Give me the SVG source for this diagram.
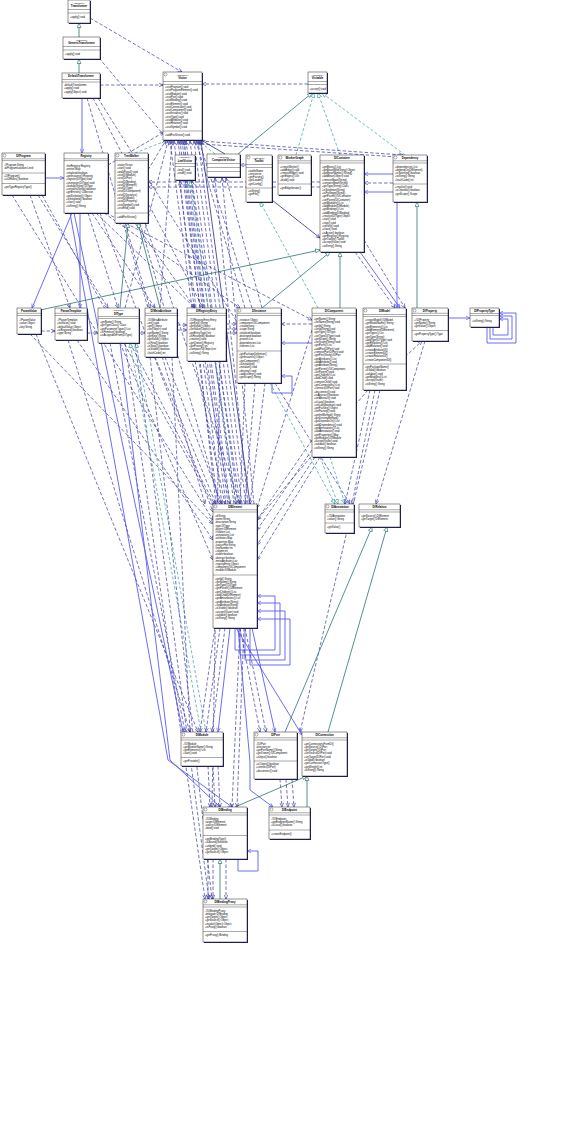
<svg xmlns="http://www.w3.org/2000/svg" width="570" height="1129" viewBox="0 0 570 1129">
<style>
.bx{fill:#fff;stroke:#2a2a2a;stroke-width:.5}
.sh{fill:#1c1c5c}
.sp{stroke:#2a2a2a;stroke-width:.4;fill:none}
.ic{fill:#fff;stroke:#333;stroke-width:.4}
.tt{font-family:"Liberation Sans",Arial,sans-serif;font-size:2.8px;font-weight:bold;text-anchor:middle;fill:#000}
.st{font-family:"Liberation Sans",Arial,sans-serif;font-size:2.5px;text-anchor:middle;fill:#000}
.m{font-family:"Liberation Sans",Arial,sans-serif;font-size:2.6px;fill:#000}
.d{fill:none;stroke:#3838a8;stroke-width:.7;stroke-dasharray:3.5 2;marker-end:url(#ad)}
.s{fill:none;stroke:#5b5bf5;stroke-width:.9;marker-end:url(#as)}
.n{fill:none;stroke:#2a2a8c;stroke-width:.8;marker-end:url(#an)}
.t{fill:none;stroke:#3a9d9d;stroke-width:.7;stroke-dasharray:3 2;marker-end:url(#at)}
.g{fill:none;stroke:#2e7272;stroke-width:.8;marker-end:url(#ag)}
</style>
<defs>
<marker id="ad" viewBox="0 0 10 10" refX="10" refY="5" markerWidth="4.5" markerHeight="4.5" markerUnits="userSpaceOnUse" orient="auto"><path d="M1,1L10,5L1,9" fill="none" stroke="#3838a8" stroke-width="1.4"/></marker>
<marker id="as" viewBox="0 0 10 10" refX="10" refY="5" markerWidth="4.5" markerHeight="4.5" markerUnits="userSpaceOnUse" orient="auto"><path d="M1,1L10,5L1,9" fill="none" stroke="#5b5bf5" stroke-width="1.4"/></marker>
<marker id="an" viewBox="0 0 10 10" refX="10" refY="5" markerWidth="4.5" markerHeight="4.5" markerUnits="userSpaceOnUse" orient="auto"><path d="M1,1L10,5L1,9" fill="none" stroke="#2a2a8c" stroke-width="1.4"/></marker>
<marker id="at" viewBox="0 0 10 10" refX="10" refY="5" markerWidth="5" markerHeight="5" markerUnits="userSpaceOnUse" orient="auto"><path d="M1,1L10,5L1,9Z" fill="#fff" stroke="#3a9d9d" stroke-width="1.3"/></marker>
<marker id="ag" viewBox="0 0 10 10" refX="10" refY="5" markerWidth="5" markerHeight="5" markerUnits="userSpaceOnUse" orient="auto"><path d="M1,1L10,5L1,9Z" fill="#fff" stroke="#2e7272" stroke-width="1.3"/></marker>
</defs>
<rect width="570" height="1129" fill="#fff"/>
<g id="connectors">
<path class="g" d="M79,37V23"/>
<path class="g" d="M79,73V59"/>
<path class="d" d="M90,18L182,72"/>
<path class="d" d="M100,85H163"/>
<path class="d" d="M308,84H202"/>
<path class="d" d="M99,58L168,140"/>
<path class="s" d="M82,98V153"/>
<path class="g" d="M238,154L312,93"/>
<path class="t" d="M296,155L314,93"/>
<path class="t" d="M340,155L318,93"/>
<path class="t" d="M405,155L322,93"/>
<path class="d" d="M200,141L403,155"/>
<path class="d" d="M201,144L398,157"/>
<path class="d" d="M320,182H148"/>
<path class="d" d="M320,187H148"/>
<path class="s" d="M393,174H364"/>
<path class="d" d="M393,183H364"/>
<path class="s" d="M393,192H364"/>
<path class="d" d="M246,165H240"/>
<path class="t" d="M135,153L168,140"/>
<path class="t" d="M185,155V140"/>
<path class="t" d="M215,154L198,140"/>
<path class="n" d="M225,154L201,140"/>
<path class="d" d="M108,165L164,132"/>
<path class="s" d="M45,178H64"/>
<path class="d" d="M87,98L205,504"/>
<path class="d" d="M93,98L203,308"/>
<path class="d" d="M98,98L350,504"/>
<path class="d" d="M218,504L170,141"/>
<path class="d" d="M222,504L174,141"/>
<path class="d" d="M226,504L178,141"/>
<path class="d" d="M230,504L182,141"/>
<path class="d" d="M234,504L186,141"/>
<path class="d" d="M238,504L190,141"/>
<path class="d" d="M242,504L194,141"/>
<path class="d" d="M246,504L198,141"/>
<path class="n" d="M250,504L201,141"/>
<path class="d" d="M200,308L180,141"/>
<path class="d" d="M205,308L184,141"/>
<path class="d" d="M160,308L172,141"/>
<path class="d" d="M245,308L196,141"/>
<path class="d" d="M252,308L199,141"/>
<path class="d" d="M125,308L168,141"/>
<path class="d" d="M216,504L180,181"/>
<path class="d" d="M228,504L186,181"/>
<path class="d" d="M240,504L192,181"/>
<path class="t" d="M236,504L190,181"/>
<path class="d" d="M248,504L215,178"/>
<path class="d" d="M254,504L222,178"/>
<path class="d" d="M262,308L226,178"/>
<path class="s" d="M72,213L32,308"/>
<path class="s" d="M80,213V308"/>
<path class="d" d="M88,213L118,308"/>
<path class="d" d="M92,213L155,308"/>
<path class="d" d="M96,213L195,308"/>
<path class="d" d="M100,213L213,512"/>
<path class="d" d="M104,213L240,308"/>
<path class="d" d="M106,213L312,320"/>
<path class="s" d="M74,213L183,732"/>
<path class="s" d="M70,213L168,760L232,807"/>
<path class="d" d="M125,223L150,308"/>
<path class="d" d="M135,223L195,308"/>
<path class="d" d="M140,223L220,504"/>
<path class="d" d="M145,223L240,504"/>
<path class="g" d="M120,308L128,223"/>
<path class="g" d="M160,308L138,223"/>
<path class="d" d="M148,170L166,140"/>
<path class="d" d="M12,195L213,520"/>
<path class="d" d="M30,195L70,308"/>
<path class="d" d="M38,195L108,308"/>
<path class="d" d="M42,195L214,506"/>
<path class="d" d="M41,331H55"/>
<path class="d" d="M30,334L213,524"/>
<path class="d" d="M36,334L198,732"/>
<path class="g" d="M40,310L320,250"/>
<path class="d" d="M87,333H98"/>
<path class="d" d="M68,340L190,732"/>
<path class="d" d="M77,340L213,540"/>
<path class="d" d="M139,333H145"/>
<path class="d" d="M110,343L185,732"/>
<path class="d" d="M120,343L213,560"/>
<path class="d" d="M130,343L215,505"/>
<path class="t" d="M201,732L130,343"/>
<path class="t" d="M206,732L136,343"/>
<path class="d" d="M125,343L205,899"/>
<path class="d" d="M135,343L209,899"/>
<path class="s" d="M120,343L170,760L220,807"/>
<path class="d" d="M177,325H187"/>
<path class="d" d="M177,330H187"/>
<path class="d" d="M155,357L216,504"/>
<path class="d" d="M165,357L222,504"/>
<path class="d" d="M172,357L190,732"/>
<path class="d" d="M150,357L212,899"/>
<path class="d" d="M226,324H237"/>
<path class="d" d="M226,329H237"/>
<path class="d" d="M226,333H237"/>
<path class="d" d="M195,361L225,504"/>
<path class="d" d="M205,361L230,504"/>
<path class="d" d="M215,361L236,504"/>
<path class="d" d="M220,361L212,807"/>
<path class="s" d="M312,343H281"/>
<path class="s" d="M272,383V393H292V376H281"/>
<path class="d" d="M312,324H281"/>
<path class="d" d="M245,383L240,504"/>
<path class="d" d="M255,383L245,504"/>
<path class="d" d="M265,383L250,504"/>
<path class="t" d="M270,383L335,504"/>
<path class="g" d="M262,308L330,252"/>
<path class="g" d="M340,308V252"/>
<path class="t" d="M320,457L338,504"/>
<path class="t" d="M330,457L345,504"/>
<path class="d" d="M312,440L257,520"/>
<path class="d" d="M312,450L257,530"/>
<path class="d" d="M315,457L257,545"/>
<path class="d" d="M320,457L257,560"/>
<path class="d" d="M312,330L257,508"/>
<path class="t" d="M318,308L260,202"/>
<path class="n" d="M272,200L320,238"/>
<path class="s" d="M397,202V308"/>
<path class="d" d="M405,357L422,341"/>
<path class="d" d="M370,390L345,504"/>
<path class="d" d="M375,390L352,504"/>
<path class="d" d="M368,390L257,520"/>
<path class="d" d="M355,252L395,308"/>
<path class="s" d="M360,252L400,308"/>
<path class="d" d="M364,240L405,308"/>
<path class="d" d="M380,390L300,732"/>
<path class="s" d="M448,318H470"/>
<path class="g" d="M417,308V202"/>
<path class="d" d="M425,341L376,504"/>
<path class="s" d="M487,327V343H516V313H499"/>
<path class="s" d="M490,327V339H512V316H499"/>
<path class="s" d="M493,327V335H508V319H499"/>
<path class="s" d="M235,628V650H275V596H257"/>
<path class="s" d="M240,628V655H280V603H257"/>
<path class="s" d="M245,628V660H285V611H257"/>
<path class="s" d="M250,628V665H290V619H257"/>
<path class="d" d="M215,628L200,732"/>
<path class="d" d="M220,628L206,732"/>
<path class="d" d="M225,628L212,732"/>
<path class="s" d="M230,628L218,732"/>
<path class="d" d="M240,628L260,732"/>
<path class="d" d="M245,628L266,732"/>
<path class="s" d="M252,628L275,732"/>
<path class="d" d="M240,628L232,807"/>
<path class="d" d="M244,628L237,807"/>
<path class="s" d="M238,628L250,762L250,790L273,807"/>
<path class="s" d="M236,628L302,735"/>
<path class="d" d="M208,766L210,807"/>
<path class="d" d="M213,766L215,807"/>
<path class="d" d="M218,766L220,807"/>
<path class="d" d="M208,859V899"/>
<path class="d" d="M213,859V899"/>
<path class="d" d="M226,859V899"/>
<path class="g" d="M220,899V859"/>
<path class="s" d="M238,859V871H258V851H247"/>
<path class="d" d="M280,779L282,807"/>
<path class="d" d="M286,779L288,807"/>
<path class="d" d="M292,779L294,807"/>
<path class="g" d="M235,807L307,776"/>
<path class="g" d="M307,807V776"/>
<path class="g" d="M285,732L372,527"/>
<path class="g" d="M328,732L387,527"/>
</g>
<g id="transformer"><rect class="sh" x="69" y="1" width="22" height="23"/><rect class="bx" x="68" y="0" width="22" height="23"/><path class="sp" d="M68,9.5h22M68,13h22"/><text class="st" x="79" y="3.6">«interface»</text><text class="tt" x="79" y="7">Transformer</text><text class="m" x="70" y="18">+apply():void</text></g>
<g id="generic-transformer"><rect class="sh" x="64" y="38" width="37" height="22"/><rect class="bx" x="63" y="37" width="37" height="22"/><path class="sp" d="M63,46.5h37M63,50h37"/><text class="st" x="81.5" y="40.5">«interface»</text><text class="tt" x="81.5" y="44">GenericTransformer</text><text class="m" x="65" y="55">+apply():void</text></g>
<g id="default-transformer"><rect class="sh" x="63" y="74" width="38" height="25"/><rect class="bx" x="62" y="73" width="38" height="25"/><path class="sp" d="M62,79.5h38M62,82h38"/><text class="tt" x="81" y="77.3">DefaultTransformer</text><text class="m" x="64" y="86"><tspan x="64" dy="0">-defaultTransformer</tspan><tspan x="64" dy="3.3">+apply():void</tspan><tspan x="64" dy="3.3">+apply(Object):void</tspan></text></g>
<g id="visitor"><rect class="sh" x="164" y="73" width="39" height="68"/><rect class="bx" x="163" y="72" width="39" height="68"/><circle class="ic" cx="165.5" cy="74.5" r="1.5"/><path class="sp" d="M163,81.5h39M163,84.5h39M163,131h39"/><text class="st" x="182.5" y="75.6">«interface»</text><text class="tt" x="182.5" y="79">Visitor</text><text class="m" x="165" y="88"><tspan x="165" dy="0">+visitProgram():void</tspan><tspan x="165" dy="3.3">+visitProgramElement():void</tspan><tspan x="165" dy="3.3">+visitModule():void</tspan><tspan x="165" dy="3.3">+visitPort():void</tspan><tspan x="165" dy="3.3">+visitBinding():void</tspan><tspan x="165" dy="3.3">+visitElement():void</tspan><tspan x="165" dy="3.3">+visitConnection():void</tspan><tspan x="165" dy="3.3">+visitComponent():void</tspan><tspan x="165" dy="3.3">+visitInstance():void</tspan><tspan x="165" dy="3.3">+visitType():void</tspan><tspan x="165" dy="3.3">+visitAttribute():void</tspan><tspan x="165" dy="3.3">+visitRelation():void</tspan><tspan x="165" dy="3.3">+visitSymbol():void</tspan></text><text class="m" x="165" y="136">+addPortVisitor():void</text></g>
<g id="visitable"><rect class="sh" x="309" y="73" width="19" height="21"/><rect class="bx" x="308" y="72" width="19" height="21"/><path class="sp" d="M308,81.5h19M308,84.5h19"/><text class="st" x="317.5" y="75.6">«interface»</text><text class="tt" x="317.5" y="79">Visitable</text><text class="m" x="309.5" y="89.5">+accept():void</text></g>
<g id="di-program"><rect class="sh" x="3" y="154" width="43" height="42"/><rect class="bx" x="2" y="153" width="43" height="42"/><circle class="ic" cx="4.5" cy="155.5" r="1.5"/><path class="sp" d="M2,158.8h43M2,160.6h43M2,173h43M2,183.5h43"/><text class="tt" x="23.5" y="157.3">DIProgram</text><text class="m" x="4" y="166"><tspan x="4" dy="0">-#Program:String</tspan><tspan x="4" dy="3.3">-diProgramIsolation:Level</tspan></text><text class="m" x="4" y="177"><tspan x="4" dy="0">+DIProgram()</tspan><tspan x="4" dy="3.3">+isDIRules():boolean</tspan></text><text class="m" x="4" y="188">+getTypeRegistryType()</text></g>
<g id="registry"><rect class="sh" x="65" y="154" width="44" height="60"/><rect class="bx" x="64" y="153" width="44" height="60"/><path class="sp" d="M64,158.8h44M64,160.6h44"/><text class="tt" x="86" y="157.3">Registry</text><text class="m" x="66" y="167"><tspan x="66" dy="0">-theRegistry:Registry</tspan><tspan x="66" dy="3.3">-entries:Map</tspan><tspan x="66" dy="3.3">-initialized:boolean</tspan><tspan x="66" dy="3.3">+getInstance():Registry</tspan><tspan x="66" dy="3.3">+register(DIType):void</tspan><tspan x="66" dy="3.3">+unregister(DIType):void</tspan><tspan x="66" dy="3.3">+lookup(String):DIType</tspan><tspan x="66" dy="3.3">+contains(String):boolean</tspan><tspan x="66" dy="3.3">+getEntries():Collection</tspan><tspan x="66" dy="3.3">+getDefinition():Object</tspan><tspan x="66" dy="3.3">+isInitialized():boolean</tspan><tspan x="66" dy="3.3">+clear():void</tspan><tspan x="66" dy="3.3">+toString():String</tspan></text></g>
<g id="tree-walker"><rect class="sh" x="116" y="154" width="33" height="70"/><rect class="bx" x="115" y="153" width="33" height="70"/><circle class="ic" cx="117.5" cy="155.5" r="1.5"/><path class="sp" d="M115,158.8h33M115,160.6h33M115,213h33"/><text class="tt" x="131.5" y="157.3">TreeWalker</text><text class="m" x="117" y="166"><tspan x="117" dy="0">-visitor:Visitor</tspan><tspan x="117" dy="3.3">+start():void</tspan><tspan x="117" dy="3.3">+walkPortal():void</tspan><tspan x="117" dy="3.3">+visit(DIModule)</tspan><tspan x="117" dy="3.3">+visit(DIPort)</tspan><tspan x="117" dy="3.3">+visit(DIBinding)</tspan><tspan x="117" dy="3.3">+visit(DIElement)</tspan><tspan x="117" dy="3.3">+visit(DIType)</tspan><tspan x="117" dy="3.3">+visit(DIComponent)</tspan><tspan x="117" dy="3.3">+visit(DIInstance)</tspan><tspan x="117" dy="3.3">+visit(DIModel)</tspan><tspan x="117" dy="3.3">+visit(DIProperty)</tspan><tspan x="117" dy="3.3">+visitSymbol():void</tspan><tspan x="117" dy="3.3">+visitEnd():void</tspan></text><text class="m" x="117" y="218">+addPortVisitor()</text></g>
<g id="leaf-visitor"><rect class="sh" x="176" y="156" width="20" height="25"/><rect class="bx" x="175" y="155" width="20" height="25"/><path class="sp" d="M175,163.5h20M175,166.5h20"/><text class="st" x="185" y="158.3">«interface»</text><text class="tt" x="185" y="161.6">LeafVisitor</text><text class="m" x="177" y="170.5"><tspan x="177" dy="0">+leaf():void</tspan><tspan x="177" dy="3.3">+node():void</tspan></text></g>
<g id="composite-visitor"><rect class="sh" x="208" y="155" width="33" height="23"/><rect class="bx" x="207" y="154" width="33" height="23"/><path class="sp" d="M207,163.5h33M207,167.5h33M207,171.5h33"/><text class="st" x="223.5" y="157.5">«interface»</text><text class="tt" x="223.5" y="161">CompositeVisitor</text></g>
<g id="toolkit"><rect class="sh" x="247" y="156" width="26" height="47"/><rect class="bx" x="246" y="155" width="26" height="47"/><circle class="ic" cx="248.5" cy="157.5" r="1.5"/><path class="sp" d="M246,164.5h26M246,167.5h26M246,188h26"/><text class="st" x="259" y="158.5">«interface»</text><text class="tt" x="259" y="162">Toolkit</text><text class="m" x="248" y="171.5"><tspan x="248" dy="0">+toolkitName</tspan><tspan x="248" dy="3.3">+version:int</tspan><tspan x="248" dy="3.3">+getFactory()</tspan><tspan x="248" dy="3.3">+getLoader()</tspan><tspan x="248" dy="3.3">+getConfig()</tspan></text><text class="m" x="248" y="192"><tspan x="248" dy="0">+toString()</tspan><tspan x="248" dy="3.3">+getFile()</tspan></text></g>
<g id="worker-graph"><rect class="sh" x="279" y="156" width="33" height="40"/><rect class="bx" x="278" y="155" width="33" height="40"/><circle class="ic" cx="280.5" cy="157.5" r="1.5"/><path class="sp" d="M278,160.8h33M278,163h33M278,184h33"/><text class="tt" x="294.5" y="159">WorkerGraph</text><text class="m" x="280" y="167.5"><tspan x="280" dy="0">+createWorker()</tspan><tspan x="280" dy="3.3">+addEdge():void</tspan><tspan x="280" dy="3.3">+removeEdge():void</tspan><tspan x="280" dy="3.3">+getEdges():List</tspan><tspan x="280" dy="3.3">+build():void</tspan></text><text class="m" x="280" y="189">+getEdgeIterator()</text></g>
<g id="di-container"><rect class="sh" x="321" y="156" width="44" height="97"/><rect class="bx" x="320" y="155" width="44" height="97"/><path class="sp" d="M320,160.8h44M320,163h44"/><text class="tt" x="342" y="159">DIContainer</text><text class="m" x="322" y="167.5"><tspan x="322" dy="0">+getBeans():List</tspan><tspan x="322" dy="3.3">+getBeanById(String):Object</tspan><tspan x="322" dy="3.3">+getBeanNames():String[]</tspan><tspan x="322" dy="3.3">+addBean(Object):void</tspan><tspan x="322" dy="3.3">+removeBean(String)</tspan><tspan x="322" dy="3.3">+containsBean(String)</tspan><tspan x="322" dy="3.3">+getType(String):Class</tspan><tspan x="322" dy="3.3">+isSingleton(String)</tspan><tspan x="322" dy="3.3">+isPrototype(String)</tspan><tspan x="322" dy="3.3">+getParent():DIContainer</tspan><tspan x="322" dy="3.3">+setParent(DIContainer)</tspan><tspan x="322" dy="3.3">+getModules():List</tspan><tspan x="322" dy="3.3">+addModule(DIModule)</tspan><tspan x="322" dy="3.3">+getBindings():List</tspan><tspan x="322" dy="3.3">+addBinding(DIBinding)</tspan><tspan x="322" dy="3.3">+resolve(DIType):Object</tspan><tspan x="322" dy="3.3">+start():void</tspan><tspan x="322" dy="3.3">+stop():void</tspan><tspan x="322" dy="3.3">+refresh():void</tspan><tspan x="322" dy="3.3">+close():void</tspan><tspan x="322" dy="3.3">+isActive():boolean</tspan><tspan x="322" dy="3.3">+getRegistry():Registry</tspan><tspan x="322" dy="3.3">+getToolkit():Toolkit</tspan><tspan x="322" dy="3.3">+accept(Visitor):void</tspan><tspan x="322" dy="3.3">+toString():String</tspan></text></g>
<g id="dependency"><rect class="sh" x="394" y="156" width="34" height="47"/><rect class="bx" x="393" y="155" width="34" height="47"/><circle class="ic" cx="395.5" cy="157.5" r="1.5"/><path class="sp" d="M393,160.8h34M393,163h34M393,184h34"/><text class="tt" x="410" y="159">Dependency</text><text class="m" x="395" y="167.5"><tspan x="395" dy="0">+dependencies:List</tspan><tspan x="395" dy="3.3">+dependOn(DIElement)</tspan><tspan x="395" dy="3.3">+isSatisfied():boolean</tspan><tspan x="395" dy="3.3">+toString():String</tspan><tspan x="395" dy="3.3">+hashCode():int</tspan></text><text class="m" x="395" y="188"><tspan x="395" dy="0">+resolve():void</tspan><tspan x="395" dy="3.3">+isOptional():boolean</tspan><tspan x="395" dy="3.3">+getScope():Scope</tspan></text></g>
<g id="param-value"><rect class="sh" x="18" y="309" width="24" height="26"/><rect class="bx" x="17" y="308" width="24" height="26"/><path class="sp" d="M17,313.3h24M17,315.5h24"/><text class="tt" x="29" y="311.8">ParamValue</text><text class="m" x="19" y="321"><tspan x="19" dy="0">-#ParamValue</tspan><tspan x="19" dy="3.3">+value:Object</tspan><tspan x="19" dy="3.3">+key:String</tspan></text></g>
<g id="param-template"><rect class="sh" x="56" y="309" width="32" height="32"/><rect class="bx" x="55" y="308" width="32" height="32"/><path class="sp" d="M55,313.3h32M55,315.5h32"/><text class="tt" x="71" y="311.8">ParamTemplate</text><text class="m" x="57" y="321"><tspan x="57" dy="0">-#ParamTemplate</tspan><tspan x="57" dy="3.3">+initValue():void</tspan><tspan x="57" dy="3.3">+defaultValue:Object</tspan><tspan x="57" dy="3.3">+isRequired():boolean</tspan><tspan x="57" dy="3.3">+type:String</tspan></text></g>
<g id="di-type"><rect class="sh" x="99" y="309" width="41" height="35"/><rect class="bx" x="98" y="308" width="41" height="35"/><path class="sp" d="M98,316.5h41M98,318.5h41"/><text class="st" x="118.5" y="311">«interface»</text><text class="tt" x="118.5" y="314.5">DIType</text><text class="m" x="100" y="323"><tspan x="100" dy="0">+getName():String</tspan><tspan x="100" dy="3.3">+getTypeClass():Class</tspan><tspan x="100" dy="3.3">+getParameterTypes():List</tspan><tspan x="100" dy="3.3">+isPrimitive():boolean</tspan><tspan x="100" dy="3.3">+isAssignableFrom(DIType)</tspan></text></g>
<g id="di-meta-attribute"><rect class="sh" x="146" y="309" width="32" height="49"/><rect class="bx" x="145" y="308" width="32" height="49"/><path class="sp" d="M145,313.3h32M145,315.5h32"/><text class="tt" x="161" y="311.8">DIMetaAttribute</text><text class="m" x="147" y="320.5"><tspan x="147" dy="0">-#DIMetaAttribute</tspan><tspan x="147" dy="3.3">+init():void</tspan><tspan x="147" dy="3.3">+get():Object</tspan><tspan x="147" dy="3.3">+set(Object):void</tspan><tspan x="147" dy="3.3">+getName():String</tspan><tspan x="147" dy="3.3">+getKey():String</tspan><tspan x="147" dy="3.3">+getValue():Object</tspan><tspan x="147" dy="3.3">+isFinal():boolean</tspan><tspan x="147" dy="3.3">+isStatic():boolean</tspan><tspan x="147" dy="3.3">+isVisible():boolean</tspan><tspan x="147" dy="3.3">+hashCode():int</tspan></text></g>
<g id="di-registry-entry"><rect class="sh" x="188" y="309" width="39" height="53"/><rect class="bx" x="187" y="308" width="39" height="53"/><path class="sp" d="M187,313.3h39M187,315.5h39"/><text class="tt" x="206.5" y="311.8">DIRegistryEntry</text><text class="m" x="189" y="320.5"><tspan x="189" dy="0">-#DIRegistryEntry:Entry</tspan><tspan x="189" dy="3.3">+getKey():String</tspan><tspan x="189" dy="3.3">+getValue():Object</tspan><tspan x="189" dy="3.3">+setValue(Object):void</tspan><tspan x="189" dy="3.3">+getEntryType():int</tspan><tspan x="189" dy="3.3">+isResolved():boolean</tspan><tspan x="189" dy="3.3">+resolve():void</tspan><tspan x="189" dy="3.3">+getOwner():Registry</tspan><tspan x="189" dy="3.3">+getPriority():int</tspan><tspan x="189" dy="3.3">+compareTo(Object):int</tspan><tspan x="189" dy="3.3">+toString():String</tspan></text></g>
<g id="di-instance"><rect class="sh" x="238" y="309" width="44" height="75"/><rect class="bx" x="237" y="308" width="44" height="75"/><circle class="ic" cx="239.5" cy="310.5" r="1.5"/><path class="sp" d="M237,313.3h44M237,315.5h44M237,351h44"/><text class="tt" x="259" y="311.8">DIInstance</text><text class="m" x="239" y="320.5"><tspan x="239" dy="0">-instance:Object</tspan><tspan x="239" dy="3.3">-component:DIComponent</tspan><tspan x="239" dy="3.3">-created:long</tspan><tspan x="239" dy="3.3">-scope:String</tspan><tspan x="239" dy="3.3">-initialized:boolean</tspan><tspan x="239" dy="3.3">-destroyed:boolean</tspan><tspan x="239" dy="3.3">-proxies:List</tspan><tspan x="239" dy="3.3">-dependencies:List</tspan><tspan x="239" dy="3.3">-listeners:List</tspan></text><text class="m" x="239" y="355"><tspan x="239" dy="0">+getPackageDefinition()</tspan><tspan x="239" dy="3.3">+getInstance():Object</tspan><tspan x="239" dy="3.3">+getComponent()</tspan><tspan x="239" dy="3.3">+isInitialized()</tspan><tspan x="239" dy="3.3">+initialize():void</tspan><tspan x="239" dy="3.3">+destroy():void</tspan><tspan x="239" dy="3.3">+addListener():void</tspan><tspan x="239" dy="3.3">+getScope():String</tspan></text></g>
<g id="di-component"><rect class="sh" x="313" y="309" width="44" height="149"/><rect class="bx" x="312" y="308" width="44" height="149"/><path class="sp" d="M312,313.3h44M312,315.5h44"/><text class="tt" x="334" y="311.8">DIComponent</text><text class="m" x="314" y="320"><tspan x="314" dy="0">+getName():String</tspan><tspan x="314" dy="3.3">+setName(String):void</tspan><tspan x="314" dy="3.3">+getId():String</tspan><tspan x="314" dy="3.3">+setId(String):void</tspan><tspan x="314" dy="3.3">+getType():DIType</tspan><tspan x="314" dy="3.3">+setType(DIType):void</tspan><tspan x="314" dy="3.3">+getScope():String</tspan><tspan x="314" dy="3.3">+setScope(String):void</tspan><tspan x="314" dy="3.3">+getPorts():List</tspan><tspan x="314" dy="3.3">+addPort(DIPort):void</tspan><tspan x="314" dy="3.3">+removePort(DIPort):void</tspan><tspan x="314" dy="3.3">+getPort(String):DIPort</tspan><tspan x="314" dy="3.3">+getAttributes():List</tspan><tspan x="314" dy="3.3">+addAttribute():void</tspan><tspan x="314" dy="3.3">+getAttribute(String)</tspan><tspan x="314" dy="3.3">+getParent():DIComponent</tspan><tspan x="314" dy="3.3">+setParent():void</tspan><tspan x="314" dy="3.3">+getChildren():List</tspan><tspan x="314" dy="3.3">+addChild():void</tspan><tspan x="314" dy="3.3">+removeChild():void</tspan><tspan x="314" dy="3.3">+getConnections():List</tspan><tspan x="314" dy="3.3">+connect(DIPort):void</tspan><tspan x="314" dy="3.3">+disconnect():void</tspan><tspan x="314" dy="3.3">+isAbstract():boolean</tspan><tspan x="314" dy="3.3">+setAbstract():void</tspan><tspan x="314" dy="3.3">+isLazy():boolean</tspan><tspan x="314" dy="3.3">+setLazy(boolean):void</tspan><tspan x="314" dy="3.3">+getFactory():Object</tspan><tspan x="314" dy="3.3">+setFactory():void</tspan><tspan x="314" dy="3.3">+getInitMethod():String</tspan><tspan x="314" dy="3.3">+getDestroyMethod()</tspan><tspan x="314" dy="3.3">+getDependsOn():List</tspan><tspan x="314" dy="3.3">+addDependency():void</tspan><tspan x="314" dy="3.3">+getAnnotations():List</tspan><tspan x="314" dy="3.3">+addAnnotation():void</tspan><tspan x="314" dy="3.3">+getProperties():Map</tspan><tspan x="314" dy="3.3">+getModule():DIModule</tspan><tspan x="314" dy="3.3">+accept(Visitor):void</tspan><tspan x="314" dy="3.3">+validate():boolean</tspan><tspan x="314" dy="3.3">+toString():String</tspan></text></g>
<g id="di-model"><rect class="sh" x="364" y="309" width="43" height="82"/><rect class="bx" x="363" y="308" width="43" height="82"/><circle class="ic" cx="365.5" cy="310.5" r="1.5"/><path class="sp" d="M363,314.5h43M363,316.5h43M363,364h43"/><text class="tt" x="384.5" y="312.3">DIModel</text><text class="m" x="365" y="321"><tspan x="365" dy="0">+createModel():DIModel</tspan><tspan x="365" dy="3.3">+getModelName():String</tspan><tspan x="365" dy="3.3">+getElements():List</tspan><tspan x="365" dy="3.3">+addElement(DIElement)</tspan><tspan x="365" dy="3.3">+getTypes():List</tspan><tspan x="365" dy="3.3">+getType(String)</tspan><tspan x="365" dy="3.3">+addType(DIType):void</tspan><tspan x="365" dy="3.3">+getRelations():List</tspan><tspan x="365" dy="3.3">+addRelation():void</tspan><tspan x="365" dy="3.3">+createAttributeDI()</tspan><tspan x="365" dy="3.3">+createElementDI()</tspan><tspan x="365" dy="3.3">+createRelationDI()</tspan><tspan x="365" dy="3.3">+createComponentDI()</tspan></text><text class="m" x="365" y="368"><tspan x="365" dy="0">+getPackageName()</tspan><tspan x="365" dy="3.3">+isValid():boolean</tspan><tspan x="365" dy="3.3">+validate():void</tspan><tspan x="365" dy="3.3">+getModules():List</tspan><tspan x="365" dy="3.3">+accept(Visitor)</tspan><tspan x="365" dy="3.3">+toString():String</tspan></text></g>
<g id="di-property"><rect class="sh" x="413" y="309" width="36" height="33"/><rect class="bx" x="412" y="308" width="36" height="33"/><circle class="ic" cx="414.5" cy="310.5" r="1.5"/><path class="sp" d="M412,313.3h36M412,315.5h36M412,330.5h36"/><text class="tt" x="430" y="311.8">DIProperty</text><text class="m" x="414" y="320.5"><tspan x="414" dy="0">+#DIProperty</tspan><tspan x="414" dy="3.3">+getName():String</tspan><tspan x="414" dy="3.3">+getValue():Object</tspan></text><text class="m" x="414" y="335">+getPropertyType():Type</text></g>
<g id="di-property-type"><rect class="sh" x="471" y="309" width="29" height="19"/><rect class="bx" x="470" y="308" width="29" height="19"/><path class="sp" d="M470,313.5h29M470,315.5h29"/><text class="tt" x="484.5" y="311.8">DIPropertyType</text><text class="m" x="472" y="321.5">+toString():String</text></g>
<g id="di-element"><rect class="sh" x="214" y="505" width="44" height="124"/><rect class="bx" x="213" y="504" width="44" height="124"/><circle class="ic" cx="215.5" cy="506.5" r="1.5"/><path class="sp" d="M213,509.8h44M213,512h44M213,575h44"/><text class="tt" x="235" y="508.3">DIElement</text><text class="m" x="215" y="517"><tspan x="215" dy="0">-id:String</tspan><tspan x="215" dy="3.2">-name:String</tspan><tspan x="215" dy="3.2">-description:String</tspan><tspan x="215" dy="3.2">-type:DIType</tspan><tspan x="215" dy="3.2">-parent:DIElement</tspan><tspan x="215" dy="3.2">-children:List</tspan><tspan x="215" dy="3.2">-annotations:List</tspan><tspan x="215" dy="3.2">-attributes:Map</tspan><tspan x="215" dy="3.2">-properties:Map</tspan><tspan x="215" dy="3.2">-sourceFile:String</tspan><tspan x="215" dy="3.2">-lineNumber:int</tspan><tspan x="215" dy="3.2">-column:int</tspan><tspan x="215" dy="3.2">-visible:boolean</tspan><tspan x="215" dy="3.2">-abstract:boolean</tspan><tspan x="215" dy="3.2">-metaAttributes:List</tspan><tspan x="215" dy="3.2">-registryEntry:Object</tspan><tspan x="215" dy="3.2">-component:DIComponent</tspan><tspan x="215" dy="3.2">-module:DIModule</tspan></text><text class="m" x="215" y="579.5"><tspan x="215" dy="0">+getId():String</tspan><tspan x="215" dy="3.3">+getName():String</tspan><tspan x="215" dy="3.3">+getType():DIType</tspan><tspan x="215" dy="3.3">+getParent():DIElement</tspan><tspan x="215" dy="3.3">+getChildren():List</tspan><tspan x="215" dy="3.3">+addChild(DIElement)</tspan><tspan x="215" dy="3.3">+getAnnotations():List</tspan><tspan x="215" dy="3.3">+getAttribute(String)</tspan><tspan x="215" dy="3.3">+setAttribute(String)</tspan><tspan x="215" dy="3.3">+isVisible():boolean</tspan><tspan x="215" dy="3.3">+accept(Visitor):void</tspan><tspan x="215" dy="3.3">+validate():boolean</tspan><tspan x="215" dy="3.3">+toString():String</tspan></text></g>
<g id="di-annotation"><rect class="sh" x="326" y="505" width="29" height="29"/><rect class="bx" x="325" y="504" width="29" height="29"/><circle class="ic" cx="327.5" cy="506.5" r="1.5"/><path class="sp" d="M325,509.8h29M325,512h29M325,523h29"/><text class="tt" x="340" y="508.3">DIAnnotation</text><text class="m" x="327" y="516.5"><tspan x="327" dy="0">+#DIAnnotation</tspan><tspan x="327" dy="3.3">+value():String</tspan></text><text class="m" x="327" y="527.5">+getValue()</text></g>
<g id="di-relation"><rect class="sh" x="360" y="505" width="41" height="23"/><rect class="bx" x="359" y="504" width="41" height="23"/><path class="sp" d="M359,509.8h41M359,512h41"/><text class="tt" x="379.5" y="508.3">DIRelation</text><text class="m" x="361" y="517"><tspan x="361" dy="0">+getSource():DIElement</tspan><tspan x="361" dy="3.3">+getTarget():DIElement</tspan></text></g>
<g id="di-module"><rect class="sh" x="182" y="733" width="42" height="34"/><rect class="bx" x="181" y="732" width="42" height="34"/><circle class="ic" cx="183.5" cy="734.5" r="1.5"/><path class="sp" d="M181,737.8h42M181,740h42M181,757.5h42"/><text class="tt" x="202" y="736.3">DIModule</text><text class="m" x="183" y="744.5"><tspan x="183" dy="0">-#DIModule</tspan><tspan x="183" dy="3.3">+getModuleName():String</tspan><tspan x="183" dy="3.3">+getElements():List</tspan><tspan x="183" dy="3.3">+start():void</tspan></text><text class="m" x="183" y="762">+getProvider()</text></g>
<g id="di-port"><rect class="sh" x="255" y="733" width="43" height="47"/><rect class="bx" x="254" y="732" width="43" height="47"/><circle class="ic" cx="256.5" cy="734.5" r="1.5"/><path class="sp" d="M254,737.8h43M254,740h43M254,761h43"/><text class="tt" x="275.5" y="736.3">DIPort</text><text class="m" x="256" y="744.5"><tspan x="256" dy="0">-#DIPort</tspan><tspan x="256" dy="3.3">-direction:int</tspan><tspan x="256" dy="3.3">+getPortName():String</tspan><tspan x="256" dy="3.3">+getOwner():DIComponent</tspan><tspan x="256" dy="3.3">+isInput():boolean</tspan></text><text class="m" x="256" y="765"><tspan x="256" dy="0">+isOutput():boolean</tspan><tspan x="256" dy="3.3">+connect(DIPort)</tspan><tspan x="256" dy="3.3">+disconnect():void</tspan></text></g>
<g id="di-connection"><rect class="sh" x="303" y="733" width="45" height="44"/><rect class="bx" x="302" y="732" width="45" height="44"/><path class="sp" d="M302,737.8h45M302,740h45"/><text class="tt" x="324.5" y="736.3">DIConnection</text><text class="m" x="304" y="744.5"><tspan x="304" dy="0">+getConnectionsFromDI()</tspan><tspan x="304" dy="3.3">+getSource():DIPort</tspan><tspan x="304" dy="3.3">+getTarget():DIPort</tspan><tspan x="304" dy="3.3">+setSource(DIPort):void</tspan><tspan x="304" dy="3.3">+setTarget(DIPort):void</tspan><tspan x="304" dy="3.3">+isValid():boolean</tspan><tspan x="304" dy="3.3">+getConnectionType()</tspan><tspan x="304" dy="3.3">+getWeight():int</tspan><tspan x="304" dy="3.3">+toString():String</tspan></text></g>
<g id="di-binding"><rect class="sh" x="204" y="808" width="44" height="52"/><rect class="bx" x="203" y="807" width="44" height="52"/><circle class="ic" cx="205.5" cy="809.5" r="1.5"/><path class="sp" d="M203,812.8h44M203,815h44M203,835.5h44"/><text class="tt" x="225" y="811.3">DIBinding</text><text class="m" x="205" y="819.5"><tspan x="205" dy="0">-#DIBinding</tspan><tspan x="205" dy="3.3">-target:DIElement</tspan><tspan x="205" dy="3.3">-source:DIElement</tspan><tspan x="205" dy="3.3">+bind():void</tspan></text><text class="m" x="205" y="840"><tspan x="205" dy="0">+getBindingType()</tspan><tspan x="205" dy="3.3">+isBound():boolean</tspan><tspan x="205" dy="3.3">+unbind():void</tspan><tspan x="205" dy="3.3">+getTarget():Object</tspan><tspan x="205" dy="3.3">+getSource():Object</tspan></text></g>
<g id="di-endpoint"><rect class="sh" x="270" y="808" width="41" height="32"/><rect class="bx" x="269" y="807" width="41" height="32"/><circle class="ic" cx="271.5" cy="809.5" r="1.5"/><path class="sp" d="M269,812.8h41M269,815h41M269,830h41"/><text class="tt" x="289.5" y="811.3">DIEndpoint</text><text class="m" x="271" y="819.5"><tspan x="271" dy="0">-#DIEndpoint</tspan><tspan x="271" dy="3.3">+getEndpointName():String</tspan><tspan x="271" dy="3.3">+isLocal():boolean</tspan></text><text class="m" x="271" y="834.5">+createEndpoint()</text></g>
<g id="di-binding-proxy"><rect class="sh" x="204" y="900" width="44" height="43"/><rect class="bx" x="203" y="899" width="44" height="43"/><circle class="ic" cx="205.5" cy="901.5" r="1.5"/><path class="sp" d="M203,904.8h44M203,907h44M203,931.5h44"/><text class="tt" x="225" y="903.3">DIBindingProxy</text><text class="m" x="205" y="911.5"><tspan x="205" dy="0">-#DIBindingProxy</tspan><tspan x="205" dy="3.3">-delegate:DIBinding</tspan><tspan x="205" dy="3.3">+getTarget():Object</tspan><tspan x="205" dy="3.3">+getSource():Object</tspan><tspan x="205" dy="3.3">+invoke(Object):Object</tspan><tspan x="205" dy="3.3">+isProxy():boolean</tspan></text><text class="m" x="205" y="936">+getProxy():Binding</text></g>
</svg>
